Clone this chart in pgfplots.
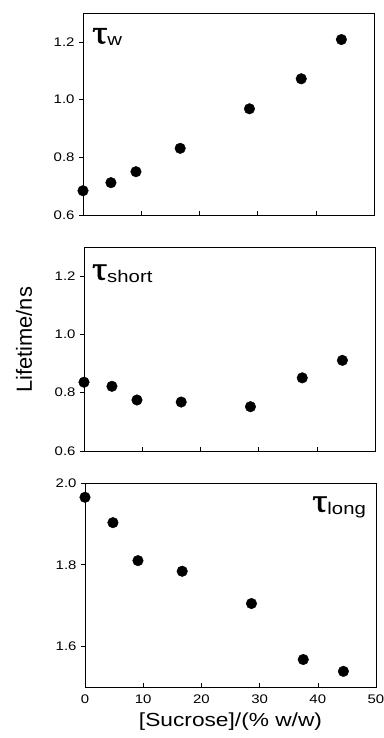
\documentclass[border=0pt]{standalone}
\usepackage{pgfplots}
\pgfplotsset{compat=1.18}
\usepackage{fontspec}
\setmainfont{Liberation Sans}[FakeStretch=1.2]
\newfontfamily\ylabfont{Liberation Sans}
\newfontfamily\taufont{Liberation Serif}[FakeStretch=1.15, FakeBold=1.5]
\newcommand{\taulab}[1]{{\taufont\fontsize{33}{33}\selectfont τ}\raisebox{-2.5pt}{\fontsize{17}{17}\selectfont #1}}
\pgfplotsset{
  panel/.style={
    scale only axis, width=291bp,
    xmin=0, xmax=50, xtick={0,10,...,50},
    xtick align=inside, ytick align=outside,
    xtick pos=left, ytick pos=left,
    major tick length=4bp,
    tick style={black, line width=0.6pt},
    axis line style={line width=0.6pt},
    /pgf/number format/assume math mode=true,
    tick label style={font=\fontsize{12.5}{12.5}\selectfont},
    yticklabel style={/pgf/number format/fixed, /pgf/number format/fixed zerofill, /pgf/number format/precision=1, xshift=-1bp},
    clip=false,
  },
}
\begin{document}
\begin{tikzpicture}[x=1bp,y=1bp]
\useasboundingbox (0,0) rectangle (383,738);
% panel 1: tau_w
\begin{axis}[panel, at={(83bp,523bp)}, anchor=south west, height=202bp,
  ymin=0.6, ymax=1.3, ytick={0.6,0.8,1.0,1.2}, xticklabels={}]
\addplot[only marks, mark=*, mark size=5.3bp, black] coordinates {
(0,0.684) (4.8,0.712) (9.1,0.750) (16.7,0.831) (28.6,0.968) (37.5,1.072) (44.4,1.208)};
\node[anchor=base west, inner sep=0pt] at (rel axis cs:0.031,0.85) {\taulab{w}};
\end{axis}
% panel 2: tau_short
\begin{axis}[panel, at={(84bp,287bp)}, anchor=south west, height=204bp,
  ymin=0.6, ymax=1.3, ytick={0.6,0.8,1.0,1.2}, xticklabels={}]
\addplot[only marks, mark=*, mark size=5.3bp, black] coordinates {
(0,0.836) (4.8,0.822) (9.1,0.775) (16.7,0.768) (28.6,0.752) (37.5,0.851) (44.4,0.911)};
\node[anchor=base west, inner sep=0pt] at (rel axis cs:0.027,0.84) {\taulab{short}};
\end{axis}
% panel 3: tau_long
\begin{axis}[panel, at={(85bp,50.7bp)}, anchor=south west, height=204.3bp,
  ymin=1.5, ymax=2.0, ytick={1.6,1.8,2.0},
  xticklabel style={yshift=-4bp},
  xlabel={[Sucrose]/(\% w/w)},
  xlabel style={font=\fontsize{19}{19}\selectfont, yshift=-2bp}]
\addplot[only marks, mark=*, mark size=5.3bp, black] coordinates {
(0,1.965) (4.8,1.903) (9.1,1.810) (16.7,1.784) (28.6,1.705) (37.5,1.568) (44.4,1.539)};
\node[anchor=base east, inner sep=0pt] at (rel axis cs:0.966,0.86) {\taulab{long}};
\end{axis}
\node[rotate=90, font=\ylabfont\fontsize{22}{22}\selectfont] at (24,398) {Lifetime/ns};
\end{tikzpicture}
\end{document}
